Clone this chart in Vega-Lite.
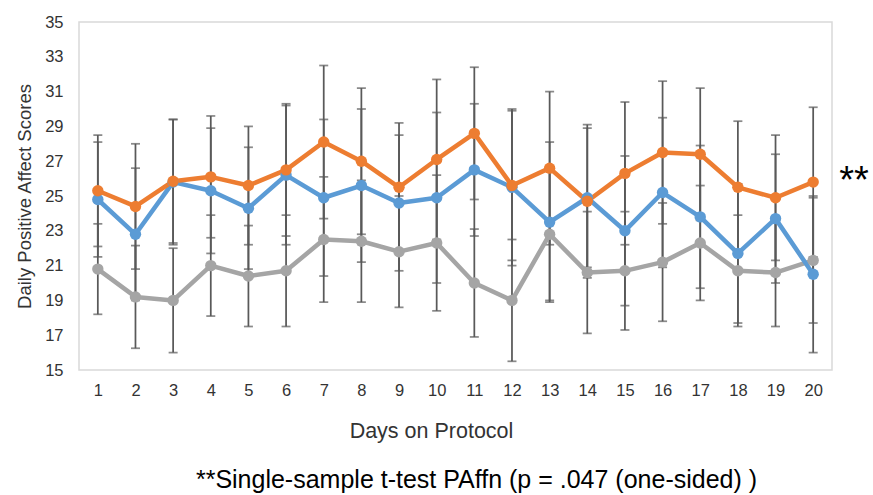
{
  "$schema": "https://vega.github.io/schema/vega-lite/v6.json",
  "width": 753,
  "height": 348,
  "autosize": {"type": "none"},
  "padding": {"left": 79, "top": 22, "right": 41, "bottom": 125},
  "background": "white",
  "config": {
    "view": {"stroke": "#D9D9D9", "strokeWidth": 1.5},
    "font": "Liberation Sans",
    "axisY": {"labelOverlap": false, "labelFlush": false, "labelBound": false},
    "axisX": {"labelOverlap": false}
  },
  "title": {
    "text": "**Single-sample t-test PAffn (p = .047 (one-sided) )",
    "orient": "bottom",
    "anchor": "middle",
    "frame": "group",
    "fontSize": 25,
    "fontWeight": "normal",
    "color": "#000000",
    "offset": 26,
    "dx": 21
  },
  "datasets": {
    "scores": [
      {"day": 1, "series": "Series 3", "mean": 20.8, "lo": 18.2, "hi": 23.4},
      {"day": 2, "series": "Series 3", "mean": 19.2, "lo": 16.25, "hi": 22.15},
      {"day": 3, "series": "Series 3", "mean": 19.0, "lo": 16.0, "hi": 22.0},
      {"day": 4, "series": "Series 3", "mean": 21.0, "lo": 18.1, "hi": 23.9},
      {"day": 5, "series": "Series 3", "mean": 20.4, "lo": 17.5, "hi": 23.3},
      {"day": 6, "series": "Series 3", "mean": 20.7, "lo": 17.5, "hi": 23.9},
      {"day": 7, "series": "Series 3", "mean": 22.5, "lo": 18.9, "hi": 26.1},
      {"day": 8, "series": "Series 3", "mean": 22.4, "lo": 18.9, "hi": 25.9},
      {"day": 9, "series": "Series 3", "mean": 21.8, "lo": 18.6, "hi": 25.0},
      {"day": 10, "series": "Series 3", "mean": 22.3, "lo": 18.4, "hi": 26.2},
      {"day": 11, "series": "Series 3", "mean": 20.0, "lo": 16.9, "hi": 23.1},
      {"day": 12, "series": "Series 3", "mean": 19.0, "lo": 15.5, "hi": 22.5},
      {"day": 13, "series": "Series 3", "mean": 22.8, "lo": 19.0, "hi": 26.6},
      {"day": 14, "series": "Series 3", "mean": 20.6, "lo": 17.1, "hi": 24.1},
      {"day": 15, "series": "Series 3", "mean": 20.7, "lo": 17.3, "hi": 24.1},
      {"day": 16, "series": "Series 3", "mean": 21.2, "lo": 17.8, "hi": 24.6},
      {"day": 17, "series": "Series 3", "mean": 22.3, "lo": 19.0, "hi": 25.6},
      {"day": 18, "series": "Series 3", "mean": 20.7, "lo": 17.5, "hi": 23.9},
      {"day": 19, "series": "Series 3", "mean": 20.6, "lo": 17.5, "hi": 23.7},
      {"day": 20, "series": "Series 3", "mean": 21.3, "lo": 17.7, "hi": 24.9},
      {"day": 1, "series": "Series 2", "mean": 24.8, "lo": 21.5, "hi": 28.1},
      {"day": 2, "series": "Series 2", "mean": 22.8, "lo": 19.0, "hi": 26.6},
      {"day": 3, "series": "Series 2", "mean": 25.8, "lo": 22.2, "hi": 29.4},
      {"day": 4, "series": "Series 2", "mean": 25.3, "lo": 21.7, "hi": 28.9},
      {"day": 5, "series": "Series 2", "mean": 24.3, "lo": 20.8, "hi": 27.8},
      {"day": 6, "series": "Series 2", "mean": 26.2, "lo": 22.2, "hi": 30.2},
      {"day": 7, "series": "Series 2", "mean": 24.9, "lo": 20.4, "hi": 29.4},
      {"day": 8, "series": "Series 2", "mean": 25.6, "lo": 21.2, "hi": 30.0},
      {"day": 9, "series": "Series 2", "mean": 24.6, "lo": 20.7, "hi": 28.5},
      {"day": 10, "series": "Series 2", "mean": 24.9, "lo": 20.0, "hi": 29.8},
      {"day": 11, "series": "Series 2", "mean": 26.5, "lo": 22.7, "hi": 30.3},
      {"day": 12, "series": "Series 2", "mean": 25.5, "lo": 21.0, "hi": 30.0},
      {"day": 13, "series": "Series 2", "mean": 23.5, "lo": 18.9, "hi": 28.1},
      {"day": 14, "series": "Series 2", "mean": 24.9, "lo": 20.9, "hi": 28.9},
      {"day": 15, "series": "Series 2", "mean": 23.0, "lo": 18.7, "hi": 27.3},
      {"day": 16, "series": "Series 2", "mean": 25.2, "lo": 20.9, "hi": 29.5},
      {"day": 17, "series": "Series 2", "mean": 23.8, "lo": 19.7, "hi": 27.9},
      {"day": 18, "series": "Series 2", "mean": 21.7, "lo": 17.7, "hi": 25.7},
      {"day": 19, "series": "Series 2", "mean": 23.7, "lo": 20.0, "hi": 27.4},
      {"day": 20, "series": "Series 2", "mean": 20.5, "lo": 16.0, "hi": 25.0},
      {"day": 1, "series": "PAffn", "mean": 25.3, "lo": 22.1, "hi": 28.5},
      {"day": 2, "series": "PAffn", "mean": 24.4, "lo": 20.8, "hi": 28.0},
      {"day": 3, "series": "PAffn", "mean": 25.85, "lo": 22.3, "hi": 29.4},
      {"day": 4, "series": "PAffn", "mean": 26.1, "lo": 22.6, "hi": 29.6},
      {"day": 5, "series": "PAffn", "mean": 25.6, "lo": 22.2, "hi": 29.0},
      {"day": 6, "series": "PAffn", "mean": 26.5, "lo": 22.7, "hi": 30.3},
      {"day": 7, "series": "PAffn", "mean": 28.1, "lo": 23.7, "hi": 32.5},
      {"day": 8, "series": "PAffn", "mean": 27.0, "lo": 22.8, "hi": 31.2},
      {"day": 9, "series": "PAffn", "mean": 25.5, "lo": 21.8, "hi": 29.2},
      {"day": 10, "series": "PAffn", "mean": 27.1, "lo": 22.5, "hi": 31.7},
      {"day": 11, "series": "PAffn", "mean": 28.6, "lo": 24.8, "hi": 32.4},
      {"day": 12, "series": "PAffn", "mean": 25.6, "lo": 21.3, "hi": 29.9},
      {"day": 13, "series": "PAffn", "mean": 26.6, "lo": 22.2, "hi": 31.0},
      {"day": 14, "series": "PAffn", "mean": 24.7, "lo": 20.3, "hi": 29.1},
      {"day": 15, "series": "PAffn", "mean": 26.3, "lo": 22.2, "hi": 30.4},
      {"day": 16, "series": "PAffn", "mean": 27.5, "lo": 23.4, "hi": 31.6},
      {"day": 17, "series": "PAffn", "mean": 27.4, "lo": 23.6, "hi": 31.2},
      {"day": 18, "series": "PAffn", "mean": 25.5, "lo": 21.7, "hi": 29.3},
      {"day": 19, "series": "PAffn", "mean": 24.9, "lo": 21.3, "hi": 28.5},
      {"day": 20, "series": "PAffn", "mean": 25.8, "lo": 21.5, "hi": 30.1}
    ],
    "note": [
      {"day": 20, "value": 26.3, "label": "**"}
    ]
  },
  "data": {"name": "scores"},
  "encoding": {
    "x": {
      "field": "day",
      "type": "quantitative",
      "scale": {"domain": [0.5, 20.5], "nice": false, "zero": false},
      "axis": {
        "values": [1, 2, 3, 4, 5, 6, 7, 8, 9, 10, 11, 12, 13, 14, 15, 16, 17, 18, 19, 20],
        "format": "d",
        "title": "Days on Protocol",
        "grid": false,
        "ticks": false,
        "domain": false,
        "labelOverlap": false,
        "labelFontSize": 16.5,
        "labelColor": "#333333",
        "labelPadding": 12,
        "titleFontSize": 21.5,
        "titleFontWeight": "normal",
        "titleColor": "#333333",
        "titlePadding": 22,
        "titleX": 352,
        "titleAlign": "center"
      }
    },
    "y": {
      "field": "mean",
      "type": "quantitative",
      "scale": {"domain": [15, 35], "nice": false, "zero": false},
      "axis": {
        "values": [15, 17, 19, 21, 23, 25, 27, 29, 31, 33, 35],
        "title": "Daily Positive Affect Scores",
        "grid": false,
        "ticks": false,
        "domain": false,
        "labelOverlap": false,
        "labelFontSize": 16.5,
        "labelColor": "#333333",
        "labelPadding": 16,
        "titleFontSize": 18.5,
        "titleFontWeight": "normal",
        "titleColor": "#333333",
        "titlePadding": 10
      }
    }
  },
  "layer": [
    {
      "mark": {"type": "rule", "color": "#595959", "strokeWidth": 1.75},
      "encoding": {
        "y": {"field": "lo", "type": "quantitative", "title": "Daily Positive Affect Scores"},
        "y2": {"field": "hi"}
      }
    },
    {
      "mark": {"type": "tick", "orient": "horizontal", "color": "#595959", "size": 9, "thickness": 1.75},
      "encoding": {"y": {"field": "lo", "type": "quantitative", "title": "Daily Positive Affect Scores"}}
    },
    {
      "mark": {"type": "tick", "orient": "horizontal", "color": "#595959", "size": 9, "thickness": 1.75},
      "encoding": {"y": {"field": "hi", "type": "quantitative", "title": "Daily Positive Affect Scores"}}
    },
    {
      "mark": {"type": "line", "strokeWidth": 4.5, "strokeCap": "round", "strokeJoin": "round", "point": {"filled": true, "size": 130, "opacity": 1}},
      "encoding": {
        "color": {
          "field": "series",
          "type": "nominal",
          "scale": {"domain": ["PAffn", "Series 2", "Series 3"], "range": ["#ED7D31", "#5B9BD5", "#A5A5A5"]},
          "legend": null
        }
      }
    },
    {
      "data": {"name": "note"},
      "mark": {"type": "text", "align": "left", "baseline": "middle", "fontSize": 38, "dx": 26, "dy": 9, "color": "#000000"},
      "encoding": {
        "y": {"field": "value", "type": "quantitative", "title": "Daily Positive Affect Scores"},
        "text": {"field": "label"}
      }
    }
  ]
}
